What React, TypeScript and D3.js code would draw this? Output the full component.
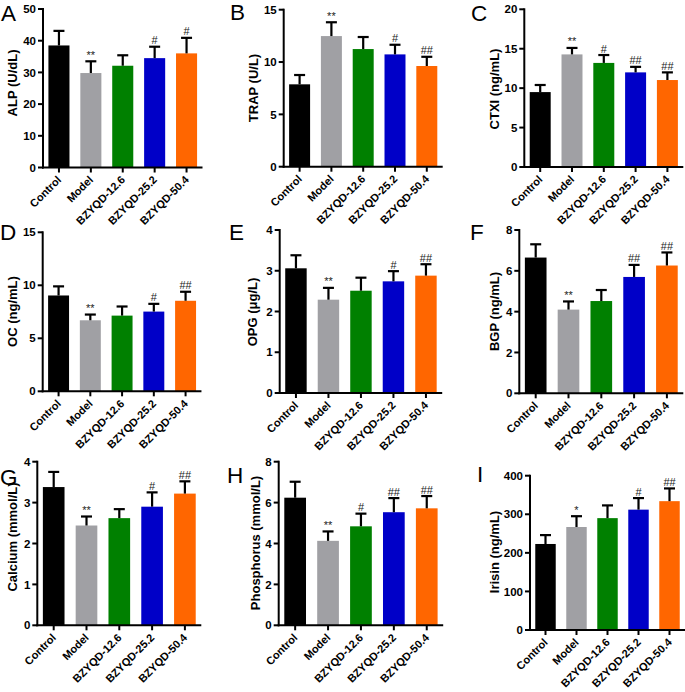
import React from "react";
import * as d3 from "d3";

const groups = ["Control", "Model", "BZYQD-12.6", "BZYQD-25.2", "BZYQD-50.4"];
const barColors = ["#000000", "#a0a0a4", "#008000", "#0000c8", "#ff6600"];

const alpMean = [38.5, 29.8, 32.1, 34.5, 36.0];
const alpSd = [4.6, 3.7, 3.3, 3.6, 4.9];
const alpSig = ["", "**", "", "#", "#"];

const trapMean = [7.87, 12.48, 11.24, 10.73, 9.62];
const trapSd = [0.89, 1.32, 1.15, 0.92, 0.88];
const trapSig = ["", "**", "", "#", "##"];

const ctxiMean = [9.5, 14.28, 13.2, 12.0, 11.03];
const ctxiSd = [0.9, 0.82, 1.0, 0.7, 0.97];
const ctxiSig = ["", "**", "#", "##", "##"];

const ocMean = [9.04, 6.7, 7.14, 7.52, 8.54];
const ocSd = [0.86, 0.54, 0.86, 0.73, 0.85];
const ocSig = ["", "**", "", "#", "##"];

const opgMean = [3.06, 2.29, 2.51, 2.74, 2.88];
const opgSd = [0.32, 0.29, 0.32, 0.25, 0.28];
const opgSig = ["", "**", "", "#", "##"];

const bgpMean = [6.65, 4.1, 4.52, 5.7, 6.26];
const bgpSd = [0.65, 0.4, 0.54, 0.59, 0.64];
const bgpSig = ["", "**", "", "##", "##"];

const caMean = [3.38, 2.44, 2.62, 2.9, 3.22];
const caSd = [0.37, 0.22, 0.22, 0.35, 0.3];
const caSig = ["", "**", "", "#", "##"];

const pMean = [6.24, 4.13, 4.84, 5.53, 5.72];
const pSd = [0.78, 0.46, 0.62, 0.69, 0.6];
const pSig = ["", "**", "#", "##", "##"];

const irisinMean = [223, 267, 290, 312, 334];
const irisinSd = [23, 28, 33, 30, 33];
const irisinSig = ["", "*", "", "#", "##"];

const panelLetters = ["A", "B", "C", "D", "E", "F", "G", "H", "I"];
const yTitles = [
  "ALP (U/dL)",
  "TRAP (U/L)",
  "CTXI (ng/mL)",
  "OC (ng/mL)",
  "OPG (\u03bcg/L)",
  "BGP (ng/mL)",
  "Calcium (mmol/L)",
  "Phosphorus (mmol/L)",
  "Irisin (ng/mL)",
];
const yMaxes = [50, 15, 20, 15, 4, 8, 4, 8, 400];
const yTickSteps = [10, 5, 5, 5, 1, 2, 1, 2, 100];
const means = [alpMean, trapMean, ctxiMean, ocMean, opgMean, bgpMean, caMean, pMean, irisinMean];
const sds = [alpSd, trapSd, ctxiSd, ocSd, opgSd, bgpSd, caSd, pSd, irisinSd];
const sigs = [alpSig, trapSig, ctxiSig, ocSig, opgSig, bgpSig, caSig, pSig, irisinSig];

// layout (pixels)
const layout = [
  { x0: 43, yTop: 9, y0: 167.5, band: 31.9, tx: 12.5, ty: 83, lx: 1, ly: 20.5 },
  { x0: 283.7, yTop: 9.7, y0: 166.7, band: 31.8, tx: 253.5, ty: 88, lx: 230, ly: 20 },
  { x0: 524.3, yTop: 9.3, y0: 167, band: 31.8, tx: 494, ty: 89, lx: 471, ly: 20.5 },
  { x0: 42.7, yTop: 232.3, y0: 391.3, band: 31.75, tx: 12, ty: 311.5, lx: 0, ly: 240 },
  { x0: 279.7, yTop: 230, y0: 393, band: 32.5, tx: 252, ty: 312, lx: 229, ly: 240 },
  { x0: 519.3, yTop: 230, y0: 393.3, band: 32.8, tx: 494, ty: 311.5, lx: 470, ly: 240 },
  { x0: 37.3, yTop: 461.7, y0: 625.3, band: 32.8, tx: 12, ty: 537, lx: 0, ly: 485 },
  { x0: 278.7, yTop: 461.7, y0: 625.3, band: 32.9, tx: 255, ty: 543, lx: 227, ly: 483 },
  { x0: 530, yTop: 475.7, y0: 630, band: 31, tx: 494, ty: 552, lx: 477, ly: 482 },
];

const FONT = "'Liberation Sans', Arial, Helvetica, sans-serif";

function Panel({ i }: { i: number }) {
  const L = layout[i];
  const x = d3
    .scaleBand<string>()
    .domain(groups)
    .range([L.x0, L.x0 + L.band * groups.length])
    .paddingInner(0.34)
    .paddingOuter(0.17);
  const y = d3.scaleLinear().domain([0, yMaxes[i]]).range([L.y0, L.yTop]);
  const ticks = d3.range(0, yMaxes[i] + yTickSteps[i] / 2, yTickSteps[i]);
  const bw = x.bandwidth();
  const xEnd = L.x0 + L.band * groups.length;
  return (
    <g>
      <text x={L.lx} y={L.ly} fontSize={22.5} fontFamily={FONT} fill="#000">
        {panelLetters[i]}
      </text>
      {groups.map((g, k) => {
        const cx = (x(g) as number) + bw / 2;
        const top = y(means[i][k]);
        const et = y(means[i][k] + sds[i][k]);
        return (
          <g key={g}>
            <rect x={x(g)} y={top} width={bw} height={L.y0 - top} fill={barColors[k]} />
            <line x1={cx} x2={cx} y1={top} y2={et} stroke="#000" strokeWidth={2.2} />
            <line x1={cx - 5.5} x2={cx + 5.5} y1={et} y2={et} stroke="#000" strokeWidth={2.2} />
            {sigs[i][k] && (
              <text
                x={cx}
                y={et - 2.5}
                textAnchor="middle"
                fontSize={11}
                fontFamily={FONT}
                fill="#222"
              >
                {sigs[i][k]}
              </text>
            )}
          </g>
        );
      })}
      {/* y axis */}
      <line x1={L.x0} x2={L.x0} y1={L.yTop - 1} y2={L.y0 + 1} stroke="#000" strokeWidth={2} />
      {ticks.map((t) => (
        <g key={t}>
          <line x1={L.x0 - 5} x2={L.x0} y1={y(t)} y2={y(t)} stroke="#000" strokeWidth={2} />
          <text
            x={L.x0 - 7}
            y={y(t)}
            dy="0.36em"
            textAnchor="end"
            fontSize={11.5}
            fontWeight="bold"
            fontFamily={FONT}
            fill="#000"
          >
            {t}
          </text>
        </g>
      ))}
      {/* x axis */}
      <line x1={L.x0 - 1} x2={xEnd} y1={L.y0} y2={L.y0} stroke="#000" strokeWidth={2} />
      {groups.map((g) => {
        const cx = (x(g) as number) + bw / 2;
        return (
          <g key={"xt" + g}>
            <line x1={cx} x2={cx} y1={L.y0} y2={L.y0 + 5} stroke="#000" strokeWidth={2} />
            <text
              transform={`translate(${cx + 3},${L.y0 + 13}) rotate(-45)`}
              textAnchor="end"
              fontSize={11}
              fontWeight="bold"
              fontFamily={FONT}
              fill="#000"
            >
              {g}
            </text>
          </g>
        );
      })}
      <text
        transform={`translate(${L.tx},${L.ty}) rotate(-90)`}
        dy="0.36em"
        textAnchor="middle"
        fontSize={13}
        fontWeight="bold"
        fontFamily={FONT}
        fill="#000"
      >
        {yTitles[i]}
      </text>
    </g>
  );
}

export default function App() {
  return (
    <svg
      width={685}
      height={692}
      style={{ position: "absolute", left: 0, top: 0, background: "#fff" }}
    >
      <rect width={685} height={692} fill="#fff" />
      {layout.map((_, i) => (
        <Panel key={i} i={i} />
      ))}
    </svg>
  );
}
